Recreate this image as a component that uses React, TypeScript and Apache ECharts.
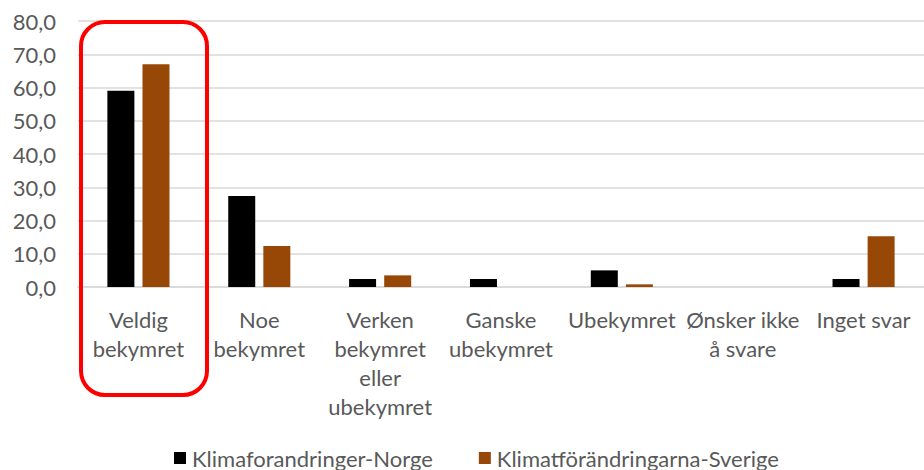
import React, { useEffect, useRef } from "react";
import * as echarts from "echarts";

const categories = [
  "Veldig\nbekymret",
  "Noe\nbekymret",
  "Verken\nbekymret\neller\nubekymret",
  "Ganske\nubekymret",
  "Ubekymret",
  "Ønsker ikke\nå svare",
  "Inget svar",
];
const norgeName = "Klimaforandringer-Norge";
const sverigeName = "Klimatförändringarna-Sverige";
const norgeValues = [59.0, 27.4, 2.4, 2.4, 5.0, 0, 2.4];
const sverigeValues = [67.0, 12.3, 3.5, 0, 0.8, 0, 15.3];
const yTicks = { min: 0, max: 80, interval: 10 };

const FONT = "Lato, 'Open Sans', sans-serif";

export default function App() {
  const ref = useRef<HTMLDivElement>(null);
  useEffect(() => {
    if (!ref.current) return;
    const chart = echarts.init(ref.current, undefined, { renderer: "svg" });
    chart.setOption({
      animation: false,
      backgroundColor: "#ffffff",
      textStyle: { fontFamily: FONT },
      grid: { left: 78, right: 0, top: 21, bottom: 183, containLabel: false },
      legend: {
        top: 447,
        left: 174,
        padding: 0,
        icon: "rect",
        itemWidth: 12,
        itemHeight: 12,
        itemGap: 46,
        textStyle: {
          fontFamily: FONT,
          fontSize: 22,
          lineHeight: 22,
          color: "#595959",
          padding: [0, 0, 0, 1],
        },
        data: [norgeName, sverigeName],
      },
      xAxis: {
        type: "category",
        data: categories,
        axisLine: { lineStyle: { color: "#d9d9d9", width: 1.5 } },
        axisTick: { show: false },
        axisLabel: {
          interval: 0,
          margin: 18,
          fontFamily: FONT,
          fontSize: 22,
          lineHeight: 29,
          color: "#595959",
          verticalAlign: "top",
        },
      },
      yAxis: {
        type: "value",
        min: yTicks.min,
        max: yTicks.max,
        interval: yTicks.interval,
        axisLine: { show: false },
        axisTick: { show: false },
        splitLine: { lineStyle: { color: "#d9d9d9", width: 1.5 } },
        axisLabel: {
          margin: 22,
          fontFamily: FONT,
          fontSize: 22,
          color: "#595959",
          formatter: (v: number) => v.toFixed(1).replace(".", ","),
        },
      },
      series: [
        {
          name: norgeName,
          type: "bar",
          data: norgeValues,
          barWidth: 27,
          barGap: "30%",
          itemStyle: { color: "#000000" },
        },
        {
          name: sverigeName,
          type: "bar",
          data: sverigeValues,
          barWidth: 27,
          barGap: "30%",
          itemStyle: { color: "#974806" },
        },
      ],
      graphic: [
        {
          type: "rect",
          shape: { x: 81, y: 22, width: 126, height: 373, r: 24 },
          style: { fill: "none", stroke: "#ff0000", lineWidth: 4 },
          z: 100,
        },
      ],
    });
    return () => chart.dispose();
  }, []);
  return <div ref={ref} style={{ width: 924, height: 470, position: "absolute", left: 0, top: 0 }} />;
}
